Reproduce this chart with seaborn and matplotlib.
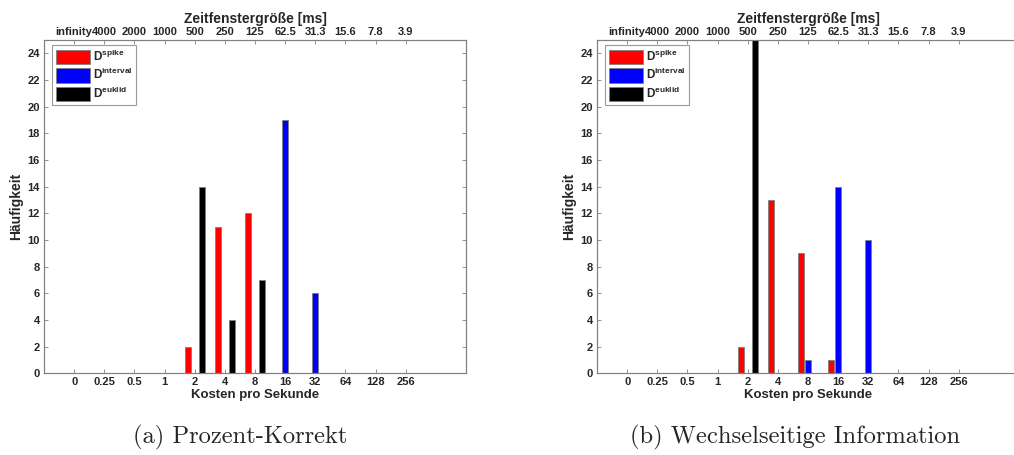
import matplotlib
matplotlib.use("Agg")
import matplotlib.pyplot as plt
import matplotlib.patches as mpatches
import seaborn as sns
import pandas as pd

# ---- data ----
cost_labels = ["0", "0.25", "0.5", "1", "2", "4", "8", "16", "32", "64", "128", "256"]
window_labels = ["infinity", "4000", "2000", "1000", "500", "250", "125", "62.5",
                 "31.3", "15.6", "7.8", "3.9"]
series_names = ["spike", "interval", "euklid"]
series_colors = ["#ff0000", "#0000ff", "#000000"]

# (a) Prozent-Korrekt
a_spike    = [0, 0, 0, 0, 2, 11, 12, 0, 0, 0, 0, 0]
a_interval = [0, 0, 0, 0, 0, 0, 0, 19, 6, 0, 0, 0]
a_euklid   = [0, 0, 0, 0, 14, 4, 7, 0, 0, 0, 0, 0]

# (b) Wechselseitige Information
b_spike    = [0, 0, 0, 0, 2, 13, 9, 1, 0, 0, 0, 0]
b_interval = [0, 0, 0, 0, 0, 0, 1, 14, 10, 0, 0, 0]
b_euklid   = [0, 0, 0, 0, 25, 0, 0, 0, 0, 0, 0, 0]

captions = ["(a) Prozent-Korrekt", "(b) Wechselseitige Information"]
y_ticks = list(range(0, 25, 2))

sns.set_theme(style="white")
plt.rcParams["font.family"] = ["Liberation Sans", "DejaVu Sans"]
plt.rcParams["font.weight"] = "bold"
plt.rcParams["mathtext.fontset"] = "custom"
plt.rcParams["mathtext.rm"] = "Liberation Sans:bold"
plt.rcParams["mathtext.bf"] = "Liberation Sans:bold"
plt.rcParams["mathtext.it"] = "Liberation Sans:bold"


def make_df(sp, iv, eu):
    rows = []
    for name, vals in zip(series_names, [sp, iv, eu]):
        for c, v in zip(cost_labels, vals):
            if v > 0:
                rows.append({"cost": c, "count": v, "series": name})
    return pd.DataFrame(rows)


fig = plt.figure(figsize=(10.14, 4.55), dpi=100)
W, H = 1014, 455
axes_left_px = [44, 597]
ax_w = 422 / W
ax_b = (455 - 373.3) / H
ax_h = 333.3 / H

datasets = [(a_spike, a_interval, a_euklid), (b_spike, b_interval, b_euklid)]
spine_col = "#808080"

for i, (lp, data) in enumerate(zip(axes_left_px, datasets)):
    ax = fig.add_axes([lp / W, ax_b, ax_w, ax_h])
    df = make_df(*data)
    sns.barplot(data=df, x="cost", y="count", hue="series",
                order=cost_labels, hue_order=series_names,
                palette=series_colors, saturation=1, width=0.69, gap=0.15,
                edgecolor="#808080", linewidth=0.6, ax=ax, legend=False)
    ax.set_xlim(-1, 13)
    ax.set_ylim(0, 25)
    ax.set_yticks(y_ticks)
    ax.set_yticklabels([str(t) for t in y_ticks], fontsize=8, fontweight="bold")
    ax.set_xticks(range(len(cost_labels)))
    ax.set_xticklabels(cost_labels, fontsize=8, fontweight="bold")
    ax.set_xlabel("Kosten pro Sekunde", fontsize=9.5, fontweight="bold", labelpad=1)
    ax.set_ylabel("Häufigkeit", fontsize=10, fontweight="bold", labelpad=3)
    ax.tick_params(axis="both", direction="in", length=3, width=0.6, color=spine_col,
                   pad=3, right=True, left=True, bottom=True)
    for s in ax.spines.values():
        s.set_color(spine_col)
        s.set_linewidth(0.8)

    top = ax.twiny()
    top.set_xlim(ax.get_xlim())
    top.set_xticks(range(len(window_labels)))
    top.set_xticklabels(window_labels, fontsize=8, fontweight="bold")
    top.set_xlabel("Zeitfenstergröße [ms]", fontsize=10, fontweight="bold", labelpad=3)
    top.tick_params(axis="x", direction="in", length=3, width=0.6, color=spine_col, pad=2)
    for s in top.spines.values():
        s.set_color(spine_col)
        s.set_linewidth(0.8)

    handles = [mpatches.Patch(facecolor=c, edgecolor="#808080", linewidth=0.6)
               for c in series_colors]
    labels = [r"D$^{\mathbf{%s}}$" % n for n in series_names]
    leg = ax.legend(handles, labels, loc="upper left", fontsize=8.5,
                    frameon=True, fancybox=False, handlelength=2.9, handleheight=1.5,
                    handletextpad=0.3, labelspacing=0.25, borderpad=0.3,
                    borderaxespad=0.0, bbox_to_anchor=(0.019, 0.985))
    leg.get_frame().set_edgecolor(spine_col)
    leg.get_frame().set_linewidth(0.8)

    cx = [240, 795][i]
    fig.text(cx / W, 1 - 437 / H, captions[i], ha="center", va="center",
             fontsize=17.7, family=["cmr10", "DejaVu Serif"], fontweight="normal")

fig.savefig("out.png", dpi=100)
